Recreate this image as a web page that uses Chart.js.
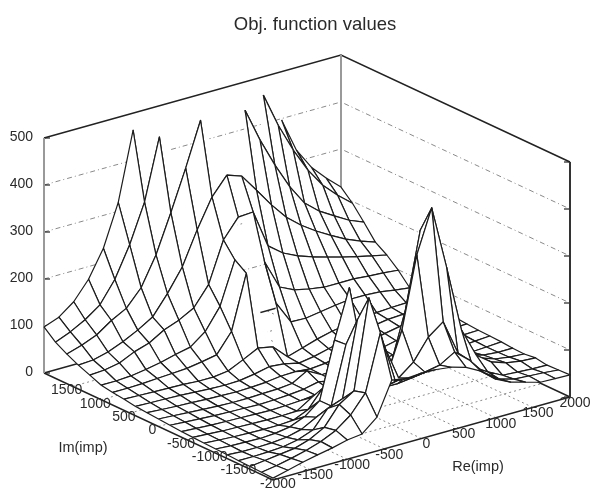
<!DOCTYPE html>
<html>
<head>
<meta charset="utf-8">
<title>Obj. function values</title>
<script src="https://cdn.jsdelivr.net/npm/chart.js@4"></script>
<style>
    body { margin: 0; background: #fff; }
    canvas { display: block; }
</style>
</head>
<body>
<canvas id="surface" width="591" height="488"></canvas>
<script>
const _ = null; // above the z range, gnuplot left those nodes out

const titleText = 'Obj. function values';
const reGrid = [-2000, -1800, -1600, -1400, -1200, -1000, -800, -600, -400, -200, 0, 200, 400, 600, 800, 1000, 1200, 1400, 1600, 1800, 2000];
const imGrid = [2000, 1800, 1600, 1400, 1200, 1000, 800, 600, 400, 200, 0, -200, -400, -600, -800, -1000, -1200, -1400, -1600, -1800, -2000];
const reTicks = [-1500, -1000, -500, 0, 500, 1000, 1500, 2000];
const imTicks = [1500, 1000, 500, 0, -500, -1000, -1500, -2000];
const zTicks = [0, 100, 200, 300, 400, 500];

// one row per Im value, left to right along Re
const im2000 = [98, 110, 134, 173, 230, 319, 464, _, _, _, _, _, _, _, _, _, 397, 324, 279, 247, 219];
const im1800 = [77, 90, 107, 130, 175, 240, 322, 452, _, _, _, _, _, _, 479, 406, 345, 293, 252, 222, 196];
const im1600 = [63, 73, 86, 108, 125, 160, 221, 302, 388, 481, _, _, 476, 404, 342, 287, 243, 217, 198, 180, 167];
const im1400 = [51, 53, 61, 74, 90, 109, 150, 198, 268, 329, 367, 356, 317, 277, 242, 216, 195, 177, 160, 147, 136];
const im1200 = [41, 43, 49, 64, 74, 93, 105, 122, 163, 249, 289, 291, 210, 186, 171, 160, 151, 142, 134, 127, 120];
const im1000 = [31, 31, 33, 38, 44, 52, 59, 83, 128, 218, _, 196, 134, 119, 112, 107, 107, 107, 104, 102, 99];
const im800 = [27, 27, 28, 30, 32, 34, 39, 45, 86, 201, _, 120, 71, 70, 75, 80, 84, 84, 82, 77, 73];
const im600 = [24, 23, 22, 21, 20, 18, 18, 22, 37, 53, 47, 17, 27, 37, 45, 50, 55, 58, 60, 61, 62];
const im400 = [20, 19, 18, 17, 15, 13, 12, 13, 18, 25, 22, 15, 20, 28, 36, 43, 50, 55, 57, 59, 60];
const im200 = [18, 16, 14, 13, 11, 10, 9, 10, 12, 16, 17, 14, 17, 24, 31, 38, 45, 51, 54, 56, 57];
const im0 = [16, 14, 12, 10, 8, 7, 7, 8, 9, 12, 30, 13, 15, 20, 27, 34, 41, 47, 51, 54, 55];
const imM200 = [14, 12, 10, 8, 7, 6, 5, 6, 8, 11, 18, 12, 14, 18, 24, 31, 38, 44, 49, 52, 53];
const imM400 = [12, 10, 8, 7, 6, 5, 4, 5, 7, 10, 13, 12, 14, 17, 22, 28, 35, 42, 47, 50, 51];
const imM600 = [11, 9, 7, 6, 5, 4, 4, 5, 25, 40, 25, 13, 16, 18, 22, 27, 33, 40, 45, 48, 50];
const imM800 = [10, 8, 6, 5, 4, 4, 6, 20, 57, 110, 60, 28, 22, 22, 26, 30, 35, 40, 45, 47, 49];
const imM1000 = [9, 7, 6, 5, 7, 12, 25, 50, 170, 273, 88, 45, 45, 52, 100, 130, 89, 59, 50, 47, 47];
const imM1200 = [8, 6, 6, 7, 10, 18, 35, 50, 172, 162, 85, 101, 210, 371, 314, 183, 100, 64, 53, 48, 46];
const imM1400 = [7, 7, 8, 10, 16, 28, 65, 77, 236, 130, 101, 188, 339, 430, 295, 153, 90, 67, 56, 51, 49];
const imM1600 = [6, 10, 14, 18, 28, 45, 85, 105, 294, 185, 106, 131, 175, 199, 124, 85, 66, 50, 48, 46, 45];
const imM1800 = [5, 10, 17, 25, 35, 50, 74, 112, 231, 120, 117, 121, 127, 146, 120, 84, 62, 53, 51, 49, 46];
const imM2000 = [4, 12, 20, 27, 33, 41, 45, 72, 142, 137, 139, 138, 134, 125, 108, 82, 67, 58, 49, 48, 47];

const zRows = [im2000, im1800, im1600, im1400, im1200, im1000, im800, im600, im400, im200, im0,
    imM200, imM400, imM600, imM800, imM1000, imM1200, imM1400, imM1600, imM1800, imM2000];

// gnuplot's view is orthographic, so the box maps to the page with a plain affine projection
function project(re, im, z) {
    const r = (re + 2000) / 4000;
    const m = (im + 2000) / 4000;
    return {
        x: 273 + 297 * r - 229 * m,
        y: 480 - 83 * r - 107 * m - 0.47 * z
    };
}

const datasets = [];

function addLine(points, color, width, dash, order) {
    datasets.push({
        data: points,
        showLine: true,
        fill: false,
        borderColor: color,
        borderWidth: width,
        borderDash: dash,
        pointRadius: 0,
        tension: 0,
        order: order
    });
}

const wallColor = '#8a8a8a';
const wallDash = [5, 3, 1, 3];
const floorDash = [2, 3];

// dash-dot lines on the two back walls
zTicks.slice(1, 5).forEach(function (z) {
    addLine([project(-2000, 2000, z), project(2000, 2000, z), project(2000, -2000, z)], wallColor, 1, wallDash, 1000);
});
// dotted grid on the floor
reTicks.slice(0, 7).forEach(function (re) {
    addLine([project(re, -2000, 0), project(re, 2000, 0)], wallColor, 1, floorDash, 1000);
});
imTicks.slice(0, 7).forEach(function (im) {
    addLine([project(-2000, im, 0), project(2000, im, 0)], wallColor, 1, floorDash, 1000);
});

// box
addLine([project(-2000, 2000, 0), project(-2000, 2000, 500)], '#999', 2, [], 999);
addLine([project(2000, 2000, 0), project(2000, 2000, 500)], '#999', 2, [], 999);
addLine([project(2000, -2000, 0), project(2000, -2000, 500)], '#333', 2, [], 999);
addLine([project(-2000, 2000, 500), project(2000, 2000, 500), project(2000, -2000, 500)], '#222', 1.6, [], 999);
addLine([project(-2000, 2000, 0), project(-2000, -2000, 0), project(2000, -2000, 0)], '#222', 1.4, [], 999);
addLine([project(-2000, 2000, 0), project(2000, 2000, 0), project(2000, -2000, 0)], '#222', 1.4, [], 999);

// tick marks
zTicks.forEach(function (z) {
    const a = project(-2000, 2000, z);
    addLine([a, {x: a.x + 6, y: a.y}], '#222', 1.2, [], 999);
    const b = project(2000, -2000, z);
    addLine([b, {x: b.x - 6, y: b.y}], '#222', 1.2, [], 999);
});

// mesh cells, back corner first so the nearer cells cover what lies behind them
for (let j = 0; j < imGrid.length - 1; j++) {
    for (let i = 0; i < reGrid.length - 1; i++) {
        const corners = [[i, j], [i + 1, j], [i + 1, j + 1], [i, j + 1]];
        const ok = corners.map(function (c) { return zRows[c[1]][c[0]] !== null; });
        const count = ok.filter(Boolean).length;
        if (count < 2) continue;
        let start = 0;
        if (count < 4) {
            start = [0, 1, 2, 3].find(function (k) { return ok[k] && !ok[(k + 3) % 4]; });
        }
        if (count === 2 && !ok[(start + 1) % 4]) continue;
        const points = [];
        for (let k = 0; k < count; k++) {
            const c = corners[(start + k) % 4];
            points.push(project(reGrid[c[0]], imGrid[c[1]], zRows[c[1]][c[0]]));
        }
        if (count === 4) points.push(points[0]);
        datasets.push({
            data: points,
            showLine: true,
            fill: count > 2 ? 'shape' : false,
            backgroundColor: '#fff',
            borderColor: '#1c1c1c',
            borderWidth: 1.2,
            borderJoinStyle: 'round',
            pointRadius: 0,
            tension: 0,
            order: i - j
        });
    }
}

const labelPlugin = {
    id: 'boxLabels',
    afterDatasetsDraw: function (chart) {
        const ctx = chart.ctx;
        const xs = chart.scales.x;
        const ys = chart.scales.y;
        function text(str, x, y, align, size) {
            ctx.font = size + 'px "Liberation Sans", sans-serif';
            ctx.textAlign = align;
            ctx.textBaseline = 'middle';
            ctx.fillStyle = '#2a2a2a';
            ctx.fillText(str, xs.getPixelForValue(x), ys.getPixelForValue(y));
        }
        ctx.save();
        text(titleText, 315, 25, 'center', 18.5);
        zTicks.forEach(function (z) {
            const p = project(-2000, 2000, z);
            text(String(z), p.x - 11, p.y - 1, 'right', 14);
        });
        imTicks.forEach(function (im) {
            const p = project(-2000, im, 0);
            // the last label sits past the corner in the original
            text(String(im), p.x - 6 + (im === -2000 ? 11 : 0), p.y + 4, 'center', 14);
        });
        reTicks.forEach(function (re) {
            const p = project(re, -2000, 0);
            text(String(re), p.x + 5, p.y + 6, 'center', 14);
        });
        text('Im(imp)', 83, 448, 'center', 14.5);
        text('Re(imp)', 478, 467, 'center', 14.5);
        ctx.restore();
    }
};

new Chart(document.getElementById('surface'), {
    type: 'scatter',
    data: {datasets: datasets},
    plugins: [labelPlugin],
    options: {
        responsive: false,
        animation: false,
        events: [],
        layout: {padding: 0},
        scales: {
            x: {type: 'linear', min: 0, max: 591, display: false},
            y: {type: 'linear', min: 0, max: 488, reverse: true, display: false}
        },
        plugins: {
            legend: {display: false},
            title: {display: false},
            tooltip: {enabled: false}
        }
    }
});
</script>
</body>
</html>
